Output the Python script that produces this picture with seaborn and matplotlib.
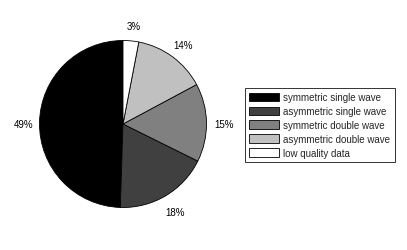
import matplotlib
matplotlib.use("Agg")
import matplotlib.pyplot as plt
from matplotlib import font_manager as fm
import matplotlib.transforms as mtrans
import seaborn as sns

categories = ["symmetric single wave", "asymmetric single wave",
              "symmetric double wave", "asymmetric double wave",
              "low quality data"]
values = [49, 18, 15, 14, 3]
colors = ["#000000", "#404040", "#808080", "#c0c0c0", "#ffffff"]

sns.set_theme(style="white")

path = None
for f in fm.findSystemFonts():
    n = f.split("/")[-1]
    if n == "LiberationSans-Regular.ttf":
        path = f
        break
if path:
    fm.fontManager.addfont(path)
    fam = fm.FontProperties(fname=path).get_name()
else:
    fam = "DejaVu Sans"
plt.rcParams['font.family'] = [fam, 'DejaVu Sans']
fp = fm.FontProperties(fname=path, size=7) if path else fm.FontProperties(size=7)

fig = plt.figure(figsize=(4.07, 2.51), dpi=100)
W, H = 407, 251
R = 83.5
cx, cy = 123, 251 - 125
lim = 1.3
side = 2 * R * lim
ax = fig.add_axes([(cx - side / 2) / W, (cy - side / 2) / H, side / W, side / H])

wedges, texts, autotexts = ax.pie(
    values, colors=colors, startangle=90, counterclock=True,
    autopct=lambda p: f"{p:.0f}%", pctdistance=1.2,
    wedgeprops=dict(edgecolor="black", linewidth=0.6),
    textprops=dict(color="black"))
off = mtrans.offset_copy(ax.transData, fig=fig, x=1, y=-2, units="dots")
for t in autotexts:
    t.set_fontproperties(fp)
    t.set_transform(off)
ax.set_xlim(-lim, lim)
ax.set_ylim(-lim, lim)
ax.set_aspect("equal")
ax.axis("off")

leg = fig.legend(wedges, categories, loc="upper left",
                 bbox_to_anchor=(244.5 / W, 1 - 89 / H),
                 prop=fp, frameon=True, fancybox=False,
                 handlelength=3.1, handleheight=1.0,
                 labelspacing=0.4, handletextpad=0.45,
                 borderpad=0.45, borderaxespad=0)
leg.get_frame().set_edgecolor("black")
leg.get_frame().set_linewidth(0.7)

fig.savefig("out.png", dpi=100)
